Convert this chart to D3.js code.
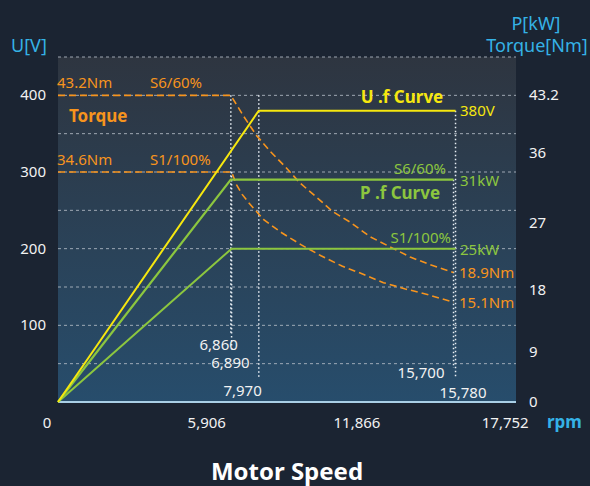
<!DOCTYPE html>
<html>
<head>
<meta charset="utf-8">
<script src="https://cdn.jsdelivr.net/npm/d3@7"></script>
<style>
  body { margin: 0; background: #1b2432; }
  svg { display: block; font-family: "Noto Sans", "Open Sans", sans-serif; }
</style>
</head>
<body>
<svg width="590" height="486"></svg>
<script>
// ticks
var speedTicks = [0, 5906, 11866, 17752];
var voltTicks = [100, 200, 300, 400];
var rightTicks = [0, 9, 18, 27, 36, 43.2];
var gridVolts = [0, 50, 100, 150, 200, 250, 300, 350, 400, 450];

// U.f curve [rpm, V]
var uCurve = [[0, 0], [7970, 380], [15780, 380]];
// P.f curves [rpm, kW]
var pS6 = [[0, 0], [6860, 31], [15700, 31]];
var pS1 = [[0, 0], [6890, 25], [15780, 25]];
// torque curves [rpm, Nm]
var tS6 = [[0, 43.2], [6860, 43.2], [7380, 40.8], [7880, 38.7], [8430, 36.9], [9020, 35.2],
  [9600, 32.9], [10280, 30.6], [10910, 28.4], [11620, 26.7], [12380, 24.5], [13180, 22.9],
  [13980, 21.3], [14780, 20.1], [15700, 18.9]];
var tS1 = [[0, 34.6], [6890, 34.6], [7090, 32.6], [7310, 31.1], [7570, 29.8], [8180, 27.1],
  [8880, 25.1], [9660, 23.2], [10440, 21.5], [11270, 19.9], [12090, 18.7], [12920, 17.6],
  [13790, 16.8], [14660, 16.1], [15700, 15.1]];

// marked speeds and the label under each
var markSpeeds = [6860, 6890, 7970, 15700, 15780];
var markLabels = ["6,860", "6,890", "7,970", "15,700", "15,780"];

var svg = d3.select("svg");
var plotL = 58, plotR = 516, plotT = 57, plotB = 402;

var x = d3.scaleLinear().domain([0, 18180]).range([plotL, plotR]);
var yU = d3.scaleLinear().domain([0, 450]).range([plotB, plotT]);
// right axis is drawn non-uniform in the reference
var yR = d3.scalePow().exponent(1.15).domain([0, 43.2]).range([yU(0), yU(400)]);
// power and torque sit on the U grid the way the reference draws them
var yP = d3.scaleLinear().domain([0, 25, 31]).range([yU(0), yU(200), yU(290)]);
var yT = d3.scaleLinear().domain([0, 15.1, 18.9, 34.6, 43.2]).range([yU(0), yU(130), yU(169), yU(300), yU(400)]);

var orange = "#f7941d", yellow = "#f6e70f", green = "#8cc63f", cyan = "#35b2e6";

// background panel
var defs = svg.append("defs");
var grad = defs.append("linearGradient").attr("id", "bg").attr("x1", 0).attr("y1", 0).attr("x2", 0).attr("y2", 1);
grad.append("stop").attr("offset", "0%").attr("stop-color", "#2e3540");
grad.append("stop").attr("offset", "100%").attr("stop-color", "#274d6c");
svg.append("rect").attr("x", plotL).attr("y", plotT).attr("width", plotR - plotL).attr("height", plotB - plotT)
  .attr("fill", "url(#bg)");

// grid
svg.append("g").selectAll("line").data(gridVolts.filter(function(d) { return d > 0; })).enter().append("line")
  .attr("x1", plotL).attr("x2", plotR)
  .attr("y1", function(d) { return yU(d); }).attr("y2", function(d) { return yU(d); })
  .attr("stroke", "#b4bcc6").attr("stroke-width", 1).attr("stroke-dasharray", "3,3").attr("opacity", 0.85);

svg.append("line").attr("x1", plotL).attr("x2", plotR).attr("y1", yU(0)).attr("y2", yU(0))
  .attr("stroke", "#a9cfe6").attr("stroke-width", 2);

// vertical marker lines
var markTop = [yT(43.2), yT(34.6), yU(400), yP(31), yU(380)];
var markBottom = [335, 352, 378, 368, 378];
var labelDx = [7, 18, 3, -9, 31];
var labelY = [350, 368, 396, 378, 398];
var vg = svg.append("g");
markSpeeds.forEach(function(s, i) {
  vg.append("line").attr("x1", x(s)).attr("x2", x(s)).attr("y1", markTop[i]).attr("y2", markBottom[i])
    .attr("stroke", "#e8eef4").attr("stroke-width", 1.5).attr("stroke-dasharray", "1.5,2.5");
  vg.append("text").attr("x", x(s) + labelDx[i]).attr("y", labelY[i]).attr("text-anchor", "end")
    .attr("fill", "#f2f2f2").attr("font-size", 15).text(markLabels[i]);
});

// curves
function drawLine(data, yScale, color, width, dash) {
  var line = d3.line().x(function(d) { return x(d[0]); }).y(function(d) { return yScale(d[1]); });
  var p = svg.append("path").datum(data).attr("d", line).attr("fill", "none")
    .attr("stroke", color).attr("stroke-width", width);
  if (dash) p.attr("stroke-dasharray", dash);
}
drawLine(tS6, yT, orange, 1.6, "7,4");
drawLine(tS1, yT, orange, 1.6, "7,4");
drawLine(pS1, yP, green, 2, null);
drawLine(pS6, yP, green, 2.2, null);
drawLine(uCurve, yU, yellow, 2, null);

// axes labels
var tg = svg.append("g").attr("font-size", 15).attr("fill", "#f2f2f2");
tg.selectAll(".yl").data(voltTicks).enter().append("text")
  .attr("x", 46).attr("y", function(d) { return yU(d) + 5; }).attr("text-anchor", "end").text(function(d) { return d; });
tg.selectAll(".yr").data(rightTicks).enter().append("text")
  .attr("x", 529).attr("y", function(d) { return yR(d) + 5; }).text(function(d) { return d; });
tg.selectAll(".xl").data(speedTicks).enter().append("text")
  .attr("x", function(d) { return d == 0 ? 47 : x(d); }).attr("y", 428).attr("text-anchor", "middle")
  .text(function(d) { return d3.format(",")(d); });

function label(txt, xp, yp, color, size, weight, anchor) {
  svg.append("text").attr("x", xp).attr("y", yp).attr("fill", color).attr("font-size", size)
    .attr("font-weight", weight || "normal").attr("text-anchor", anchor || "start").text(txt);
}
label("U[V]", 11, 52, cyan, 18);
label("P[kW]", 536, 30, cyan, 18, "normal", "middle");
label("Torque[Nm]", 537, 52, cyan, 18, "normal", "middle");
label("rpm", 547, 428, cyan, 17, "bold");
label("Motor Speed", 287, 480, "#ffffff", 24, "bold", "middle");

label("43.2Nm", 57, yT(43.2) - 7, orange, 15);
label("S6/60%", 150, yT(43.2) - 7, orange, 15);
label("Torque", 69, 122, orange, 17, "bold");
label("34.6Nm", 57, yT(34.6) - 7, orange, 15);
label("S1/100%", 150, yT(34.6) - 7, orange, 15);
label("18.9Nm", 459, yT(18.9) + 6, orange, 15);
label("15.1Nm", 459, yT(15.1) + 6, orange, 15);

label("U .f Curve", 402, 103, yellow, 17, "bold", "middle");
label("380V", 460, yU(380) + 5, yellow, 15);

label("S6/60%", 446, 174, green, 15, "normal", "end");
label("31kW", 460, yP(31) + 6, green, 15);
label("P .f Curve", 400, 199, green, 17, "bold", "middle");
label("S1/100%", 451, 243, green, 15, "normal", "end");
label("25kW", 460, yP(25) + 6, green, 15);
</script>
</body>
</html>
